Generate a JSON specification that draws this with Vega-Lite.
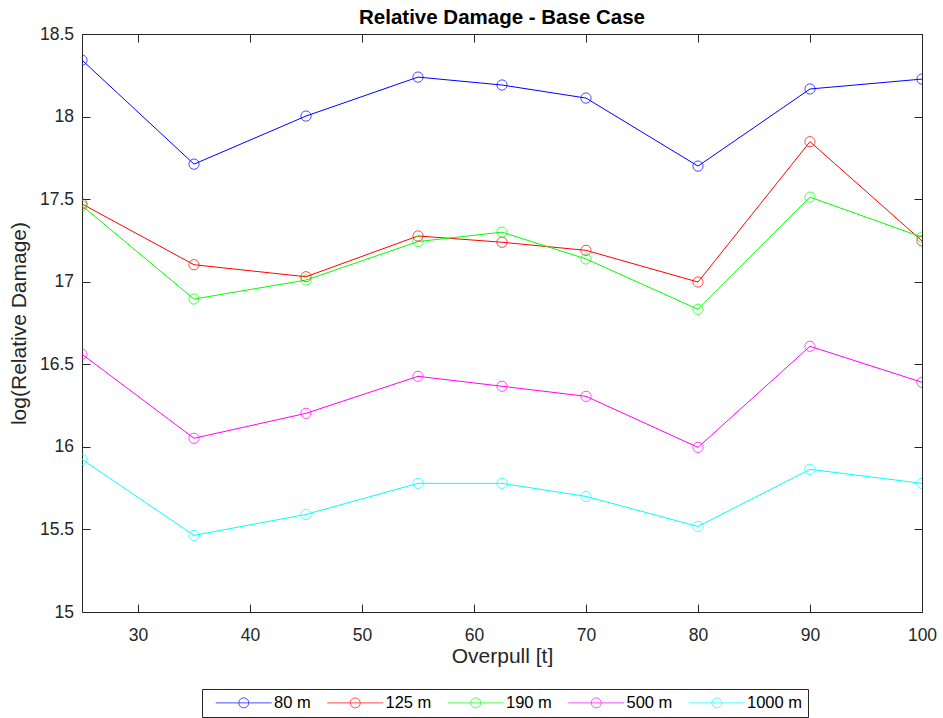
{
  "$schema": "https://vega.github.io/schema/vega-lite/v6.json",
  "width": 840,
  "height": 578,
  "autosize": {"type": "none"},
  "padding": {"left": 82, "top": 34, "right": 21, "bottom": 106},
  "background": "white",
  "config": {
    "font": "Liberation Sans",
    "view": {"stroke": null},
    "axis": {"grid": false, "domainColor": "#262626", "tickColor": "#262626", "labelColor": "#262626", "titleColor": "#262626", "labelFont": "Liberation Sans", "titleFont": "Liberation Sans", "labelFontSize": 17.5, "titleFontSize": 21, "titleFontWeight": "normal", "tickSize": -8, "domainWidth": 1, "tickWidth": 1, "labelFlush": false, "labelOverlap": false}
  },
  "title": {"text": "Relative Damage - Base Case", "fontSize": 20.5, "fontWeight": "bold", "font": "Liberation Sans", "color": "black", "anchor": "middle", "frame": "group", "offset": -3},
  "data": {"values": [
    {"overpull": 25, "depth": "80 m", "value": 18.342},
    {"overpull": 35, "depth": "80 m", "value": 17.712},
    {"overpull": 45, "depth": "80 m", "value": 18.003},
    {"overpull": 55, "depth": "80 m", "value": 18.239},
    {"overpull": 62.5, "depth": "80 m", "value": 18.191},
    {"overpull": 70, "depth": "80 m", "value": 18.112},
    {"overpull": 80, "depth": "80 m", "value": 17.700},
    {"overpull": 90, "depth": "80 m", "value": 18.167},
    {"overpull": 100, "depth": "80 m", "value": 18.227},
    {"overpull": 25, "depth": "125 m", "value": 17.471},
    {"overpull": 35, "depth": "125 m", "value": 17.103},
    {"overpull": 45, "depth": "125 m", "value": 17.030},
    {"overpull": 55, "depth": "125 m", "value": 17.277},
    {"overpull": 62.5, "depth": "125 m", "value": 17.239},
    {"overpull": 70, "depth": "125 m", "value": 17.190},
    {"overpull": 80, "depth": "125 m", "value": 16.998},
    {"overpull": 90, "depth": "125 m", "value": 17.848},
    {"overpull": 100, "depth": "125 m", "value": 17.247},
    {"overpull": 25, "depth": "190 m", "value": 17.460},
    {"overpull": 35, "depth": "190 m", "value": 16.895},
    {"overpull": 45, "depth": "190 m", "value": 17.010},
    {"overpull": 55, "depth": "190 m", "value": 17.243},
    {"overpull": 62.5, "depth": "190 m", "value": 17.300},
    {"overpull": 70, "depth": "190 m", "value": 17.138},
    {"overpull": 80, "depth": "190 m", "value": 16.833},
    {"overpull": 90, "depth": "190 m", "value": 17.512},
    {"overpull": 100, "depth": "190 m", "value": 17.270},
    {"overpull": 25, "depth": "500 m", "value": 16.561},
    {"overpull": 35, "depth": "500 m", "value": 16.052},
    {"overpull": 45, "depth": "500 m", "value": 16.203},
    {"overpull": 55, "depth": "500 m", "value": 16.427},
    {"overpull": 62.5, "depth": "500 m", "value": 16.367},
    {"overpull": 70, "depth": "500 m", "value": 16.306},
    {"overpull": 80, "depth": "500 m", "value": 15.997},
    {"overpull": 90, "depth": "500 m", "value": 16.609},
    {"overpull": 100, "depth": "500 m", "value": 16.391},
    {"overpull": 25, "depth": "1000 m", "value": 15.924},
    {"overpull": 35, "depth": "1000 m", "value": 15.464},
    {"overpull": 45, "depth": "1000 m", "value": 15.591},
    {"overpull": 55, "depth": "1000 m", "value": 15.779},
    {"overpull": 62.5, "depth": "1000 m", "value": 15.779},
    {"overpull": 70, "depth": "1000 m", "value": 15.700},
    {"overpull": 80, "depth": "1000 m", "value": 15.518},
    {"overpull": 90, "depth": "1000 m", "value": 15.864},
    {"overpull": 100, "depth": "1000 m", "value": 15.779}
  ]},
  "layer": [
    {
      "mark": {"type": "line", "strokeWidth": 1, "clip": true},
      "encoding": {
        "x": {"field": "overpull", "type": "quantitative", "scale": {"domain": [25, 100], "nice": false, "zero": false},
              "axis": {"orient": "bottom", "values": [30, 40, 50, 60, 70, 80, 90, 100], "title": "Overpull [t]", "labelPadding": 22, "titlePadding": 2}},
        "y": {"field": "value", "type": "quantitative", "scale": {"domain": [15, 18.5], "nice": false, "zero": false},
              "axis": {"orient": "left", "values": [15, 15.5, 16, 16.5, 17, 17.5, 18, 18.5], "format": ".1~f", "title": "log(Relative Damage)", "labelPadding": 16.5, "titlePadding": 9.5}},
        "color": {"field": "depth", "type": "nominal",
                  "scale": {"domain": ["80 m", "125 m", "190 m", "500 m", "1000 m"], "range": ["#0000ff", "#ff0000", "#00ff00", "#ff00ff", "#00ffff"]},
                  "legend": {"title": null, "orient": "none", "legendX": 120, "legendY": 655, "direction": "horizontal", "columns": 5, "gridAlign": "each",
                             "symbolType": "M0,0L11.2,0M6.6,0A1,1,0,1,1,4.6,0A1,1,0,1,1,6.6,0", "symbolSize": 100, "symbolStrokeWidth": 1, "symbolFillColor": "transparent",
                             "labelFont": "Liberation Sans", "labelFontSize": 16.5, "labelColor": "black", "labelOffset": 50, "columnPadding": 7.5,
                             "strokeColor": "#262626", "fillColor": "white", "padding": 5.5, "cornerRadius": 0}},
        "detail": {"field": "depth"}
      }
    },
    {
      "mark": {"type": "point", "shape": "circle", "filled": false, "size": 105, "strokeWidth": 1, "clip": true},
      "encoding": {
        "x": {"field": "overpull", "type": "quantitative",
              "axis": {"orient": "top", "values": [30, 40, 50, 60, 70, 80, 90, 100], "labels": false, "title": null}},
        "y": {"field": "value", "type": "quantitative",
              "axis": {"orient": "right", "values": [15, 15.5, 16, 16.5, 17, 17.5, 18, 18.5], "labels": false, "title": null}},
        "color": {"field": "depth", "type": "nominal"}
      }
    }
  ],
  "resolve": {"axis": {"x": "independent", "y": "independent"}}
}
